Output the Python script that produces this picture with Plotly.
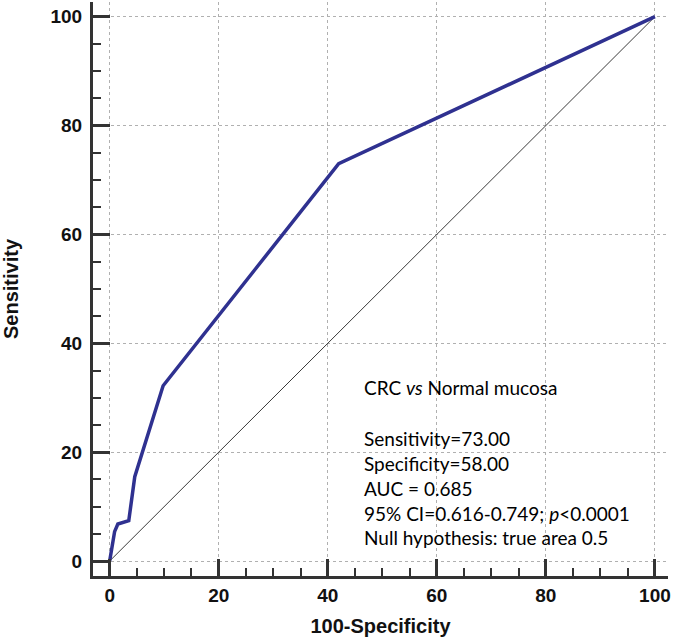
import plotly.graph_objects as go

# ROC curve points (100-Specificity, Sensitivity)
fpr = [0, 0.9, 1.5, 3.5, 4.6, 9.8, 42.0, 100]
tpr = [0, 5.4, 6.8, 7.4, 15.5, 32.2, 73.0, 100]

diag_x = [0, 100]
diag_y = [0, 100]

tick_vals = [0, 20, 40, 60, 80, 100]
tick_text = ["0", "20", "40", "60", "80", "100"]

info_lines = [
    "CRC <i>vs</i> Normal mucosa",
    "",
    "Sensitivity=73.00",
    "Specificity=58.00",
    "AUC = 0.685",
    "95% CI=0.616-0.749; <i>p</i><0.0001",
    "Null hypothesis: true area 0.5",
]

fig = go.Figure()
fig.add_trace(go.Scatter(x=diag_x, y=diag_y, mode="lines",
                         line=dict(color="#3a3a3a", width=1), hoverinfo="skip",
                         showlegend=False))
fig.add_trace(go.Scatter(x=fpr, y=tpr, mode="lines",
                         line=dict(color="#2f3190", width=3.5), showlegend=False))

axis_common = dict(
    tickvals=tick_vals, ticktext=[f"<b>{t}</b>" for t in tick_text],
    showline=True, linecolor="#333333", linewidth=3,
    ticks="inside", ticklen=17, tickwidth=3, tickcolor="#333333",
    minor=dict(dtick=5, ticks="inside", ticklen=8, tickwidth=2,
               tickcolor="#333333", showgrid=False),
    showgrid=True, gridcolor="#b0b0b0", gridwidth=1, griddash="dot",
    zeroline=False, automargin=False,
    tickfont=dict(family="Liberation Sans", size=19, color="#111111"),
    title_font=dict(family="Liberation Sans", size=20, color="#111111"),
)

fig.update_xaxes(range=[-3.06, 102.4], title_text="<b>100-Specificity</b>",
                 title_standoff=15, **axis_common)
fig.update_yaxes(range=[-2.75, 102.7], title_text="<b>Sensitivity</b>",
                 title_standoff=33, ticklabelstandoff=4, **axis_common)

line_y_px = [387, 413, 438, 463, 488, 513, 537]
for txt, ypx in zip(info_lines, line_y_px):
    if not txt:
        continue
    fig.add_annotation(x=46.2, y=(561 - ypx) / 5.445, xref="x", yref="y",
                       text=txt, showarrow=False, xanchor="left", yanchor="middle",
                       font=dict(family="Lato", size=19, color="#000000"))

fig.update_layout(
    width=675, height=642,
    margin=dict(l=93, r=7, t=2, b=66),
    plot_bgcolor="white", paper_bgcolor="white",
)

fig.write_html("out.html", config={"displayModeBar": False},
               post_script="document.body.style.margin='0';document.body.style.overflow='hidden';")
